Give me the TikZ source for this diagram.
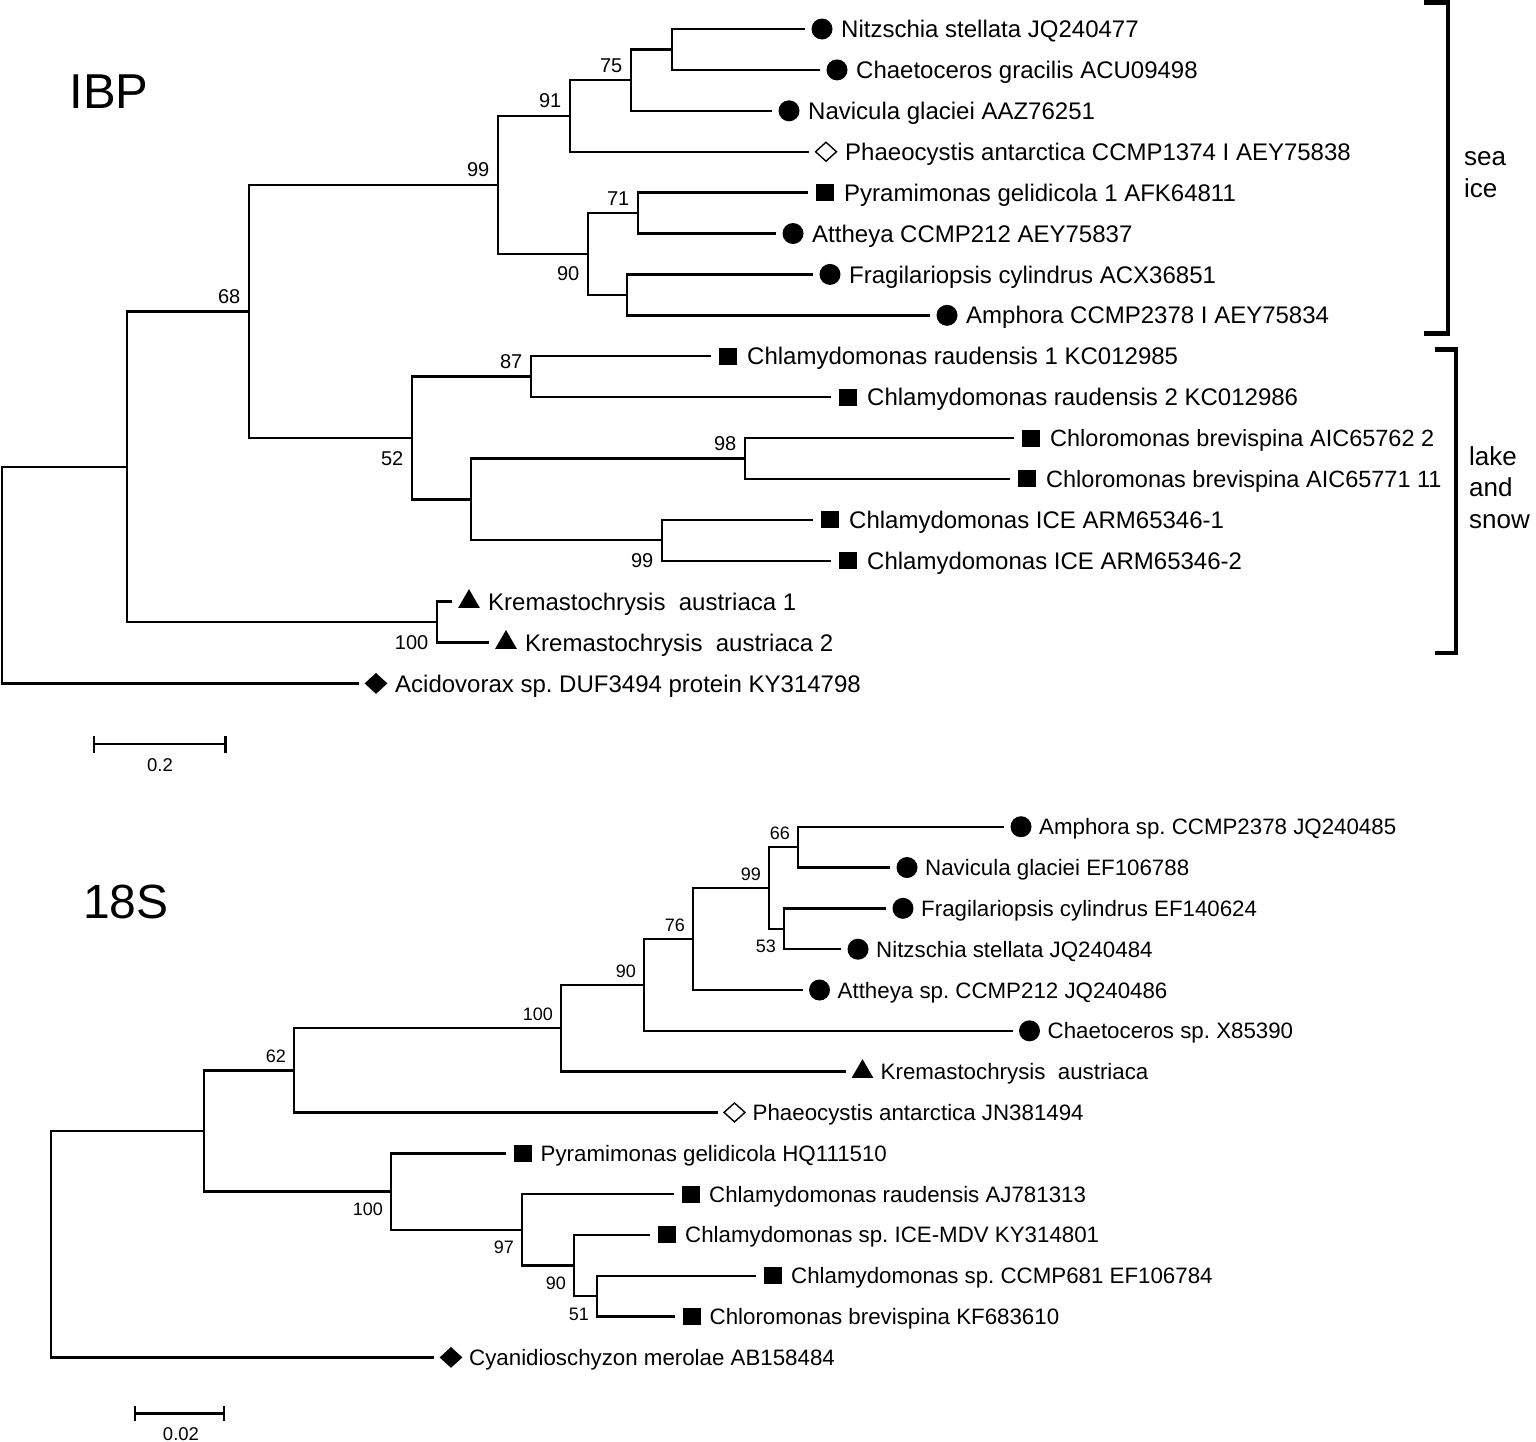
\documentclass[tikz,border=0pt]{standalone}
\usepackage{fontspec}
\setmainfont{Liberation Sans}
\usetikzlibrary{shapes.geometric}
\frenchspacing
\begin{document}
\frenchspacing
\begin{tikzpicture}[x=1pt,y=-1pt,
  br/.style={line width=2.4pt, line join=miter},
  lf/.style={br, shorten >=17pt},
  dot/.style={circle, fill=black, inner sep=0pt, minimum size=21pt},
  sq/.style={rectangle, fill=black, inner sep=0pt, minimum width=18pt, minimum height=17pt},
  dia/.style={diamond, fill=black, inner sep=0pt, minimum width=23pt, minimum height=21pt},
  odia/.style={diamond, draw=black, line width=1.4pt, fill=white, inner sep=0pt, minimum width=21.5pt, minimum height=19.5pt},
  tri/.style={regular polygon, regular polygon sides=3, fill=black, inner sep=0pt, minimum size=25pt},
  ti/.style={anchor=base west, inner sep=0pt, xshift=19pt, yshift=-8.6pt, font=\fontsize{24}{28}\selectfont},
  tin/.style={ti, font=\fontsize{23.5}{28}\selectfont},
  ts/.style={anchor=base west, inner sep=0pt, xshift=18pt, yshift=-8pt, font=\fontsize{22.3}{26}\selectfont},
  bi/.style={anchor=base east, inner sep=0pt, font=\fontsize{20}{24}\selectfont},
  bia/.style={bi, xshift=-8.5pt, yshift=8pt},
  bib/.style={bi, xshift=-8.5pt, yshift=-27pt},
  bs/.style={anchor=base east, inner sep=0pt, font=\fontsize{18}{22}\selectfont},
  bsa/.style={bs, xshift=-8pt, yshift=7.5pt},
  bsb/.style={bs, xshift=-8pt, yshift=-24pt},
  title/.style={anchor=base west, inner sep=0pt, font=\fontsize{49}{56}\selectfont},
  side/.style={anchor=base west, inner sep=0pt, font=\fontsize{26}{30}\selectfont},
  brk/.style={line width=4.5pt, line join=miter},
  sbar/.style={line width=2.4pt},
  sbl/.style={anchor=base, inner sep=0pt, font=\fontsize{18.5}{22}\selectfont}
]
\useasboundingbox[fill=white] (0,0) rectangle (1536,1441);

% ================= IBP tree =================
\node[title] (tIBP) at (69.4,108.3) {IBP};

% internal nodes
\coordinate (r1)   at (2,575.1);
\coordinate (a1)   at (127,466.75);
\coordinate (b68)  at (249,311.45);
\coordinate (c99)  at (498,184.9);
\coordinate (c91)  at (570,115.9);
\coordinate (c75)  at (631,80.1);
\coordinate (cnn)  at (672,49.45);
\coordinate (c90)  at (588,253.95);
\coordinate (c71)  at (638,213.05);
\coordinate (cfa)  at (627,294.85);
\coordinate (c52)  at (412,438);
\coordinate (c87)  at (531,376.65);
\coordinate (ccc)  at (471,499.35);
\coordinate (c98)  at (745,458.45);
\coordinate (c99b) at (662,540.25);
\coordinate (ck)   at (437,622.05);

% leaf markers
\node[dot]  (m1)  at (822,29.0)  {};
\node[dot]  (m2)  at (837,69.9)  {};
\node[dot]  (m3)  at (789,110.8) {};
\node[odia] (m4)  at (826,151.7) {};
\node[sq]   (m5)  at (825,192.6) {};
\node[dot]  (m6)  at (793,233.5) {};
\node[dot]  (m7)  at (830,274.4) {};
\node[dot]  (m8)  at (947,315.3) {};
\node[sq]   (m9)  at (728,356.2) {};
\node[sq]   (m10) at (848,397.1) {};
\node[sq]   (m11) at (1031,438.0) {};
\node[sq]   (m12) at (1027,478.9) {};
\node[sq]   (m13) at (830,519.8) {};
\node[sq]   (m14) at (848,560.7) {};
\node[tri]  (m15) at (469,601.6) {};
\node[tri]  (m16) at (506,642.5) {};
\node[dia]  (m17) at (376,683.4) {};

% leaf texts
\node[ti]  (t1)  at (m1.center)  {Nitzschia stellata JQ240477};
\node[ti]  (t2)  at (m2.center)  {Chaetoceros gracilis ACU09498};
\node[ti]  (t3)  at (m3.center)  {Navicula glaciei AAZ76251};
\node[ti]  (t4)  at (m4.center)  {Phaeocystis antarctica CCMP1374 I AEY75838};
\node[ti]  (t5)  at (m5.center)  {Pyramimonas gelidicola 1 AFK64811};
\node[ti]  (t6)  at (m6.center)  {Attheya CCMP212 AEY75837};
\node[ti]  (t7)  at (m7.center)  {Fragilariopsis cylindrus ACX36851};
\node[ti]  (t8)  at (m8.center)  {Amphora CCMP2378 I AEY75834};
\node[ti]  (t9)  at (m9.center)  {Chlamydomonas raudensis 1 KC012985};
\node[ti]  (t10) at (m10.center) {Chlamydomonas raudensis 2 KC012986};
\node[tin] (t11) at (m11.center) {Chloromonas brevispina AIC65762 2};
\node[tin] (t12) at (m12.center) {Chloromonas brevispina AIC65771 11};
\node[ti]  (t13) at (m13.center) {Chlamydomonas ICE ARM65346-1};
\node[ti]  (t14) at (m14.center) {Chlamydomonas ICE ARM65346-2};
\node[ti]  (t15) at (m15.center) {Kremastochrysis~ austriaca 1};
\node[ti]  (t16) at (m16.center) {Kremastochrysis~ austriaca 2};
\node[ti]  (t17) at (m17.center) {Acidovorax sp. DUF3494 protein KY314798};

% internal branches
\draw[br] (r1) |- (a1);
\draw[br] (a1) |- (b68);
\draw[br] (a1) |- (ck);
\draw[br] (b68) |- (c99);
\draw[br] (b68) |- (c52);
\draw[br] (c99) |- (c91);
\draw[br] (c99) |- (c90);
\draw[br] (c91) |- (c75);
\draw[br] (c75) |- (cnn);
\draw[br] (c90) |- (c71);
\draw[br] (c90) |- (cfa);
\draw[br] (c52) |- (c87);
\draw[br] (c52) |- (ccc);
\draw[br] (ccc) |- (c98);
\draw[br] (ccc) |- (c99b);

% leaf branches
\draw[lf] (cnn) |- (m1.center);
\draw[lf] (cnn) |- (m2.center);
\draw[lf] (c75) |- (m3.center);
\draw[lf] (c91) |- (m4.center);
\draw[lf] (c71) |- (m5.center);
\draw[lf] (c71) |- (m6.center);
\draw[lf] (cfa) |- (m7.center);
\draw[lf] (cfa) |- (m8.center);
\draw[lf] (c87) |- (m9.center);
\draw[lf] (c87) |- (m10.center);
\draw[lf] (c98) |- (m11.center);
\draw[lf] (c98) |- (m12.center);
\draw[lf] (c99b) |- (m13.center);
\draw[lf] (c99b) |- (m14.center);
\draw[lf] (ck) |- (m15.center);
\draw[lf] (ck) |- (m16.center);
\draw[lf] (r1) |- (m17.center);

% bootstrap values
\node[bia] (l68)  at (b68)  {68};
\node[bia] (l99)  at (c99)  {99};
\node[bia] (l91)  at (c91)  {91};
\node[bia] (l75)  at (c75)  {75};
\node[bia] (l71)  at (c71)  {71};
\node[bib] (l90)  at (c90)  {90};
\node[bia] (l87)  at (c87)  {87};
\node[bib] (l52)  at (c52)  {52};
\node[bia] (l98)  at (c98)  {98};
\node[bib] (l99b) at (c99b) {99};
\node[bib] (l100) at (ck)   {100};

% brackets
\draw[brk] (1424,2.5) -- (1448,2.5) -- (1448,333.5) -- (1424,333.5);
\node[side] (sea) at (1464,165.7) {sea};
\node[side] (ice) at (1464,197) {ice};
\draw[brk] (1435,349.5) -- (1456,349.5) -- (1456,653) -- (1435,653);
\node[side] (lake) at (1469,465) {lake};
\node[side] (and)  at (1469,496.5) {and};
\node[side] (snow) at (1469,528) {snow};

% scale bar
\coordinate (sa1) at (94,744);
\coordinate (sa2) at (225.5,744);
\draw[sbar] (sa1) -- (sa2);
\draw[sbar] ([yshift=8.5pt]sa1) -- ([yshift=-8.5pt]sa1);
\draw[sbar] ([yshift=8.5pt]sa2) -- ([yshift=-8.5pt]sa2);
\node[sbl] (sal) at (160,771.7) {0.2};

% ================= 18S tree =================
\node[title, font=\fontsize{48}{56}\selectfont] (t18S) at (82.8,918) {18S};

\coordinate (s66)   at (798,847.1);
\coordinate (s53)   at (784,928.75);
\coordinate (s99)   at (769,887.9);
\coordinate (s76)   at (693,938.95);
\coordinate (s90)   at (644,984.9);
\coordinate (s100)  at (561,1028.25);
\coordinate (s62)   at (294,1070.3);
\coordinate (s51)   at (597,1296.1);
\coordinate (s90b)  at (574,1265.5);
\coordinate (s97)   at (522,1229.8);
\coordinate (s100b) at (391,1191.55);
\coordinate (sx)    at (204,1130.9);
\coordinate (sr)    at (51,1244.15);

\node[dot]  (n1)  at (1021,826.7)   {};
\node[dot]  (n2)  at (907,867.5)    {};
\node[dot]  (n3)  at (903,908.3)    {};
\node[dot]  (n4)  at (858,949.2)    {};
\node[dot]  (n5)  at (819.5,990.0)  {};
\node[dot]  (n6)  at (1029.5,1030.8) {};
\node[tri]  (n7)  at (862.5,1071.6) {};
\node[odia] (n8)  at (734.5,1112.4) {};
\node[sq]   (n9)  at (522.5,1153.3) {};
\node[sq]   (n10) at (691,1194.1)   {};
\node[sq]   (n11) at (667,1234.9)   {};
\node[sq]   (n12) at (773,1275.7)   {};
\node[sq]   (n13) at (691.5,1316.5) {};
\node[dia]  (n14) at (451,1357.4)   {};

\node[ts] (u1)  at (n1.center)  {Amphora sp. CCMP2378 JQ240485};
\node[ts] (u2)  at (n2.center)  {Navicula glaciei EF106788};
\node[ts] (u3)  at (n3.center)  {Fragilariopsis cylindrus EF140624};
\node[ts] (u4)  at (n4.center)  {Nitzschia stellata JQ240484};
\node[ts] (u5)  at (n5.center)  {Attheya sp. CCMP212 JQ240486};
\node[ts] (u6)  at (n6.center)  {Chaetoceros sp. X85390};
\node[ts] (u7)  at (n7.center)  {Kremastochrysis~ austriaca};
\node[ts] (u8)  at (n8.center)  {Phaeocystis antarctica JN381494};
\node[ts] (u9)  at (n9.center)  {Pyramimonas gelidicola HQ111510};
\node[ts] (u10) at (n10.center) {Chlamydomonas raudensis AJ781313};
\node[ts] (u11) at (n11.center) {Chlamydomonas sp. ICE-MDV KY314801};
\node[ts] (u12) at (n12.center) {Chlamydomonas sp. CCMP681 EF106784};
\node[ts] (u13) at (n13.center) {Chloromonas brevispina KF683610};
\node[ts] (u14) at (n14.center) {Cyanidioschyzon merolae AB158484};

\draw[br] (sr) |- (sx);
\draw[br] (sx) |- (s62);
\draw[br] (sx) |- (s100b);
\draw[br] (s62) |- (s100);
\draw[br] (s100) |- (s90);
\draw[br] (s90) |- (s76);
\draw[br] (s76) |- (s99);
\draw[br] (s99) |- (s66);
\draw[br] (s99) |- (s53);
\draw[br] (s100b) |- (s97);
\draw[br] (s97) |- (s90b);
\draw[br] (s90b) |- (s51);

\draw[lf] (s66) |- (n1.center);
\draw[lf] (s66) |- (n2.center);
\draw[lf] (s53) |- (n3.center);
\draw[lf] (s53) |- (n4.center);
\draw[lf] (s76) |- (n5.center);
\draw[lf] (s90) |- (n6.center);
\draw[lf] (s100) |- (n7.center);
\draw[lf] (s62) |- (n8.center);
\draw[lf] (s100b) |- (n9.center);
\draw[lf] (s97) |- (n10.center);
\draw[lf] (s90b) |- (n11.center);
\draw[lf] (s51) |- (n12.center);
\draw[lf] (s51) |- (n13.center);
\draw[lf] (sr) |- (n14.center);

\node[bsa] (k66)   at (s66)   {66};
\node[bsa] (k99)   at (s99)   {99};
\node[bsb] (k53)   at (s53)   {53};
\node[bsa] (k76)   at (s76)   {76};
\node[bsa] (k90)   at (s90)   {90};
\node[bsa] (k100)  at (s100)  {100};
\node[bsa] (k62)   at (s62)   {62};
\node[bsb] (k100b) at (s100b) {100};
\node[bsb] (k97)   at (s97)   {97};
\node[bsb] (k90b)  at (s90b)  {90};
\node[bsb] (k51)   at (s51)   {51};

\coordinate (sb1) at (135,1413.3);
\coordinate (sb2) at (224,1413.3);
\draw[sbar] (sb1) -- (sb2);
\draw[sbar] ([yshift=7.5pt]sb1) -- ([yshift=-7.5pt]sb1);
\draw[sbar] ([yshift=7.5pt]sb2) -- ([yshift=-7.5pt]sb2);
\node[sbl] (sbl1) at (181,1440) {0.02};

\end{tikzpicture}
\end{document}
